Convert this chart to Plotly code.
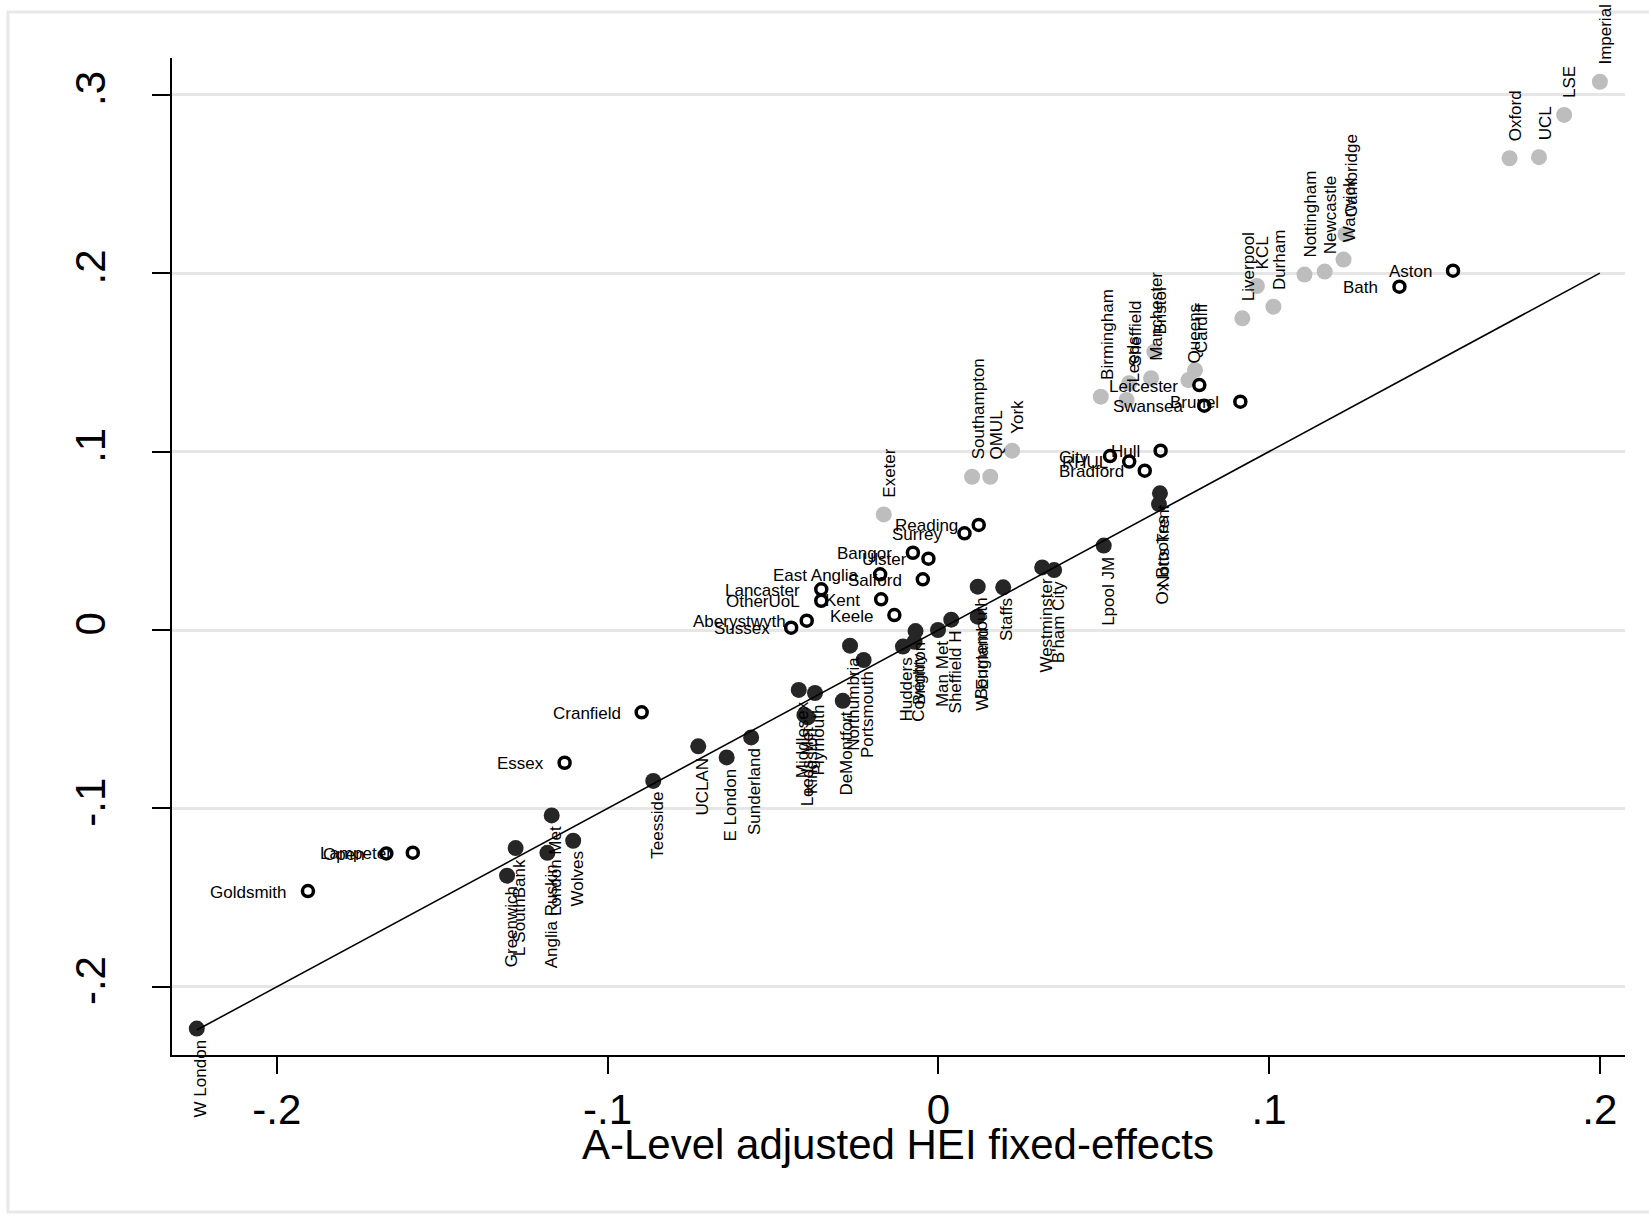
import plotly.graph_objects as go

# ---- data ----
elite_names = ["Imperial", "LSE", "UCL", "Oxford", "Cambridge", "Warwick", "Newcastle",
               "Nottingham", "Durham", "KCL", "Liverpool", "Cardiff", "Queens", "Bristol",
               "Manchester", "Sheffield", "Leeds", "Birmingham", "York", "QMUL",
               "Southampton", "Exeter"]
elite_x = [0.2000, 0.1892, 0.1816, 0.1727, 0.1231, 0.1225, 0.1168, 0.1107, 0.1013, 0.0963,
           0.0919, 0.0776, 0.0756, 0.0653, 0.0643, 0.0577, 0.0569, 0.0491, 0.0223, 0.0157,
           0.0102, -0.0165]
elite_y = [0.3073, 0.2887, 0.2650, 0.2644, 0.2218, 0.2076, 0.2009, 0.1992, 0.1812, 0.1928,
           0.1747, 0.1457, 0.1401, 0.1560, 0.1411, 0.1383, 0.1289, 0.1308, 0.1005, 0.0859,
           0.0859, 0.0648]

mid_names = ["Aston", "Bath", "Brunel", "Swansea", "Leicester", "Hull", "Bradford", "RHUL",
             "City", "Reading", "Surrey", "Ulster", "Bangor", "Salford", "Keele", "Kent",
             "East Anglia", "Lancaster", "OtherUoL", "Aberystwyth", "Sussex", "Cranfield",
             "Essex", "Lampeter", "Open", "Goldsmith"]
mid_x = [0.1556, 0.1394, 0.0913, 0.0804, 0.0789, 0.0672, 0.0624, 0.0577, 0.0519, 0.0122,
         0.0079, -0.0030, -0.0077, -0.0047, -0.0133, -0.0173, -0.0176, -0.0354, -0.0354,
         -0.0398, -0.0445, -0.0897, -0.1130, -0.1589, -0.1669, -0.1906]
mid_y = [0.2014, 0.1924, 0.1280, 0.1257, 0.1373, 0.1005, 0.0893, 0.0944, 0.0975, 0.0589,
         0.0542, 0.0400, 0.0433, 0.0284, 0.0084, 0.0172, 0.0312, 0.0228, 0.0164, 0.0052,
         0.0013, -0.0461, -0.0744, -0.1248, -0.1252, -0.1463]

post_names = ["Notts Trent", "Ox Brookes", "Lpool JM", "B'ham City", "Westminster", "Staffs",
              "Bournemouth", "W England", "Sheffield H", "Man Met", "Brighton", "Coventry",
              "Hudders", "Portsmouth", "Northumbria", "DeMontfort", "Plymouth", "Kingston",
              "Leeds Met", "Middlesex", "Sunderland", "E London", "UCLAN", "Teesside",
              "Wolves", "London Met", "Anglia Ruskin", "L SouthBank", "Greenwich", "W London"]
post_x = [0.0670, 0.0667, 0.0500, 0.0350, 0.0314, 0.0196, 0.0119, 0.0119, 0.0039, -0.0001,
          -0.0069, -0.0072, -0.0107, -0.0226, -0.0267, -0.0289, -0.0373, -0.0395, -0.0405,
          -0.0422, -0.0566, -0.0640, -0.0726, -0.0862, -0.1104, -0.1169, -0.1182, -0.1278,
          -0.1304, -0.2242]
post_y = [0.0766, 0.0706, 0.0473, 0.0336, 0.0351, 0.0239, 0.0243, 0.0075, 0.0058, 0.0000,
          -0.0006, -0.0066, -0.0093, -0.0168, -0.0088, -0.0397, -0.0353, -0.0490, -0.0476,
          -0.0336, -0.0602, -0.0714, -0.0652, -0.0846, -0.1181, -0.1039, -0.1249, -0.1222,
          -0.1377, -0.2234]

tick_vals = [-0.2, -0.1, 0, 0.1, 0.2, 0.3]
x_tick_vals = [-0.2, -0.1, 0, 0.1, 0.2]
tick_text = {-0.2: "-.2", -0.1: "-.1", 0: "0", 0.1: ".1", 0.2: ".2", 0.3: ".3"}
x_title = "A-Level adjusted HEI fixed-effects"

FONT = "Liberation Sans, Arial, sans-serif"

fig = go.Figure()
fig.add_trace(go.Scatter(x=elite_x, y=elite_y, mode="markers", text=elite_names,
                         hoverinfo="text", marker=dict(size=16, color="#bdbdbd"),
                         showlegend=False))
fig.add_trace(go.Scatter(x=mid_x, y=mid_y, mode="markers", text=mid_names,
                         hoverinfo="text",
                         marker=dict(symbol="circle-open", size=11, color="black",
                                     line=dict(width=3.5, color="black")),
                         showlegend=False))
fig.add_trace(go.Scatter(x=post_x, y=post_y, mode="markers", text=post_names,
                         hoverinfo="text", marker=dict(size=16, color="#262626"),
                         showlegend=False))

all_x = elite_x + mid_x + post_x
lo, hi = min(all_x), max(all_x)
fig.add_trace(go.Scatter(x=[lo, hi], y=[lo, hi], mode="lines",
                         line=dict(color="black", width=1.6), hoverinfo="skip",
                         showlegend=False))

ann = []
lab_font = dict(family=FONT, size=17, color="black")
for n, x, y in zip(elite_names, elite_x, elite_y):
    ann.append(dict(x=x, y=y, text=n, showarrow=False, textangle=-90,
                    xanchor="center", yanchor="bottom", xshift=6, yshift=15,
                    font=lab_font))
for n, x, y in zip(mid_names, mid_x, mid_y):
    ann.append(dict(x=x, y=y, text=n, showarrow=False,
                    xanchor="right", yanchor="middle", xshift=-19, yshift=-1,
                    font=lab_font))
for n, x, y in zip(post_names, post_x, post_y):
    ann.append(dict(x=x, y=y, text=n, showarrow=False, textangle=-90,
                    xanchor="center", yanchor="top", xshift=4, yshift=-9,
                    font=lab_font))

# x-axis title as a paper annotation
ann.append(dict(x=0.4997, y=-0.0893, xref="paper", yref="paper", text=x_title,
                showarrow=False, xanchor="center", yanchor="middle",
                font=dict(family=FONT, size=42, color="black")))

fig.update_layout(
    width=1649, height=1217,
    margin=dict(l=172, r=24, t=58, b=162),
    paper_bgcolor="white", plot_bgcolor="white",
    font=dict(family=FONT, color="black"),
    annotations=ann,
    shapes=[dict(type="rect", xref="paper", yref="paper",
                 x0=-0.1129, x1=1.06, y0=-0.1575, y1=1.0461,
                 line=dict(color="#e8e8e8", width=3), layer="below")],
    xaxis=dict(range=[-0.2317, 0.2076], tickvals=x_tick_vals,
               ticktext=[tick_text[v] for v in x_tick_vals],
               showline=True, linecolor="black", linewidth=2,
               ticks="outside", ticklen=17, tickwidth=1.5, tickcolor="black",
               showgrid=False, zeroline=False, automargin=False,
               tickfont=dict(family=FONT, size=42)),
    yaxis=dict(range=[-0.2382, 0.3206], tickvals=tick_vals,
               ticktext=[tick_text[v] for v in tick_vals],
               showline=True, linecolor="black", linewidth=2,
               ticks="outside", ticklen=18, tickwidth=1.5, tickcolor="black",
               showgrid=True, gridcolor="#e6e6e6", gridwidth=3, zeroline=False,
               tickangle=-90, ticklabelstandoff=30, automargin=False,
               tickfont=dict(family=FONT, size=42)),
)

fig.write_html("out.html", config={"displayModeBar": False},
               post_script="document.body.style.margin='0px';")
